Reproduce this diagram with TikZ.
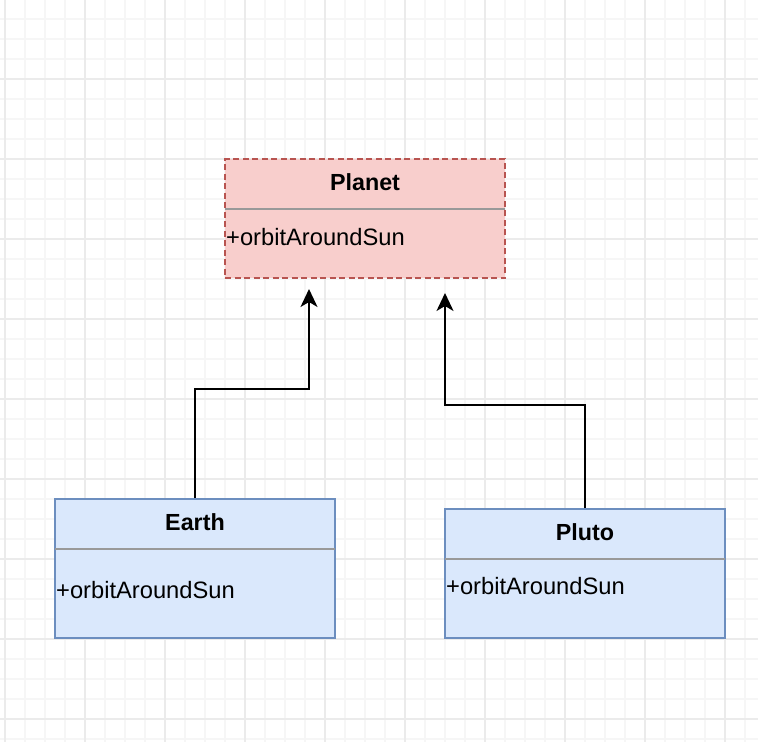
\documentclass[tikz,border=0pt]{standalone}
\usepackage{fontspec}
\setmainfont{Liberation Sans}
\usetikzlibrary{arrows.meta,calc}
\definecolor{redfill}{HTML}{F8CECC}
\definecolor{redline}{HTML}{B85450}
\definecolor{bluefill}{HTML}{DAE8FC}
\definecolor{blueline}{HTML}{6C8EBF}
\definecolor{sepgray}{HTML}{999999}
\definecolor{gridminor}{HTML}{F6F6F6}
\definecolor{gridmajor}{HTML}{EBEBEB}
\tikzset{
  classbox/.style={rectangle, inner sep=0pt, line width=1.6pt},
  redbox/.style={classbox, draw=redline, fill=redfill, dash pattern=on 6pt off 3.5pt},
  bluebox/.style={classbox, draw=blueline, fill=bluefill},
  titletext/.style={font=\fontsize{23.3}{27}\selectfont\bfseries, inner sep=0pt},
  attrtext/.style={font=\fontsize{23.7}{28}\selectfont, inner sep=0pt, anchor=west},
  sepline/.style={draw=sepgray, line width=1.6pt},
  inherit/.style={draw=black, line width=2pt, -{Stealth[length=18pt, width=17pt, inset=5pt]}}
}
\begin{document}
\begin{tikzpicture}[x=1pt,y=-1pt]
\useasboundingbox (0,0) rectangle (758,742);
\fill[white] (0,0) rectangle (758,742);
% grid
\foreach \x in {5,25,...,758} \draw[gridminor, line width=1.3pt] (\x,0) -- (\x,742);
\foreach \y in {19,39,...,742} \draw[gridminor, line width=1.3pt] (0,\y) -- (758,\y);
\foreach \x in {5,85,...,758} \draw[gridmajor, line width=1.3pt] (\x,0) -- (\x,742);
\foreach \y in {79,159,...,742} \draw[gridmajor, line width=1.3pt] (0,\y) -- (758,\y);

% Planet
\node[redbox, minimum width=280pt, minimum height=119pt] (planet) at (365,218.5) {};
\node[titletext] (planetT) at (365,182) {Planet};
\draw[sepline] (225,209) -- (505,209);
\node[attrtext] (planetA) at (226,237) {+orbitAroundSun};

% Earth
\node[bluebox, minimum width=280pt, minimum height=139pt] (earth) at (195,568.5) {};
\node[titletext] (earthT) at (195,522) {Earth};
\draw[sepline] (55,549) -- (335,549);
\node[attrtext] (earthA) at (56,590) {+orbitAroundSun};

% Pluto
\node[bluebox, minimum width=280pt, minimum height=129pt] (pluto) at (585,573.5) {};
\node[titletext] (plutoT) at (585,532) {Pluto};
\draw[sepline] (445,559) -- (725,559);
\node[attrtext] (plutoA) at (446,586) {+orbitAroundSun};

% connectors
\coordinate (tipE) at (309,289);
\coordinate (tipP) at (445,293);
\draw[inherit] (earth.north) -- (195,389) -- (309,389) -- (tipE);
\draw[inherit] (pluto.north) -- (585,405) -- (445,405) -- (tipP);
\end{tikzpicture}
\end{document}
